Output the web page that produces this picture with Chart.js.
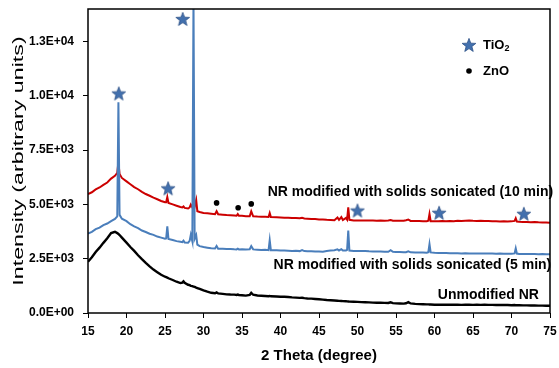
<!DOCTYPE html>
<html>
<head>
<meta charset="utf-8">
<script src="https://cdn.jsdelivr.net/npm/chart.js@4.4.1/dist/chart.umd.min.js"></script>
<style>
  body { margin: 0; background: #fff; }
  canvas { display: block; }
</style>
</head>
<body>
<canvas id="grafico" width="559" height="368"></canvas>
<script>
// 2 theta (graus)
const theta = [
  15, 15.5, 16, 16.5, 17, 17.5, 18, 18.5, 18.8, 18.95,
  19.1, 19.4, 20, 20.5, 21, 21.5, 22, 22.5, 23, 23.5,
  24, 24.5, 25, 25.15, 25.3, 25.45, 26, 26.5, 27, 27.25,
  27.4, 27.55, 28, 28.2, 28.35, 28.55, 28.7, 28.85, 29.05, 29.2,
  29.5, 30, 30.5, 31, 31.5, 31.7, 31.9, 32.5, 33, 33.5,
  34, 34.3, 34.45, 34.6, 35, 35.5, 36, 36.2, 36.45, 37,
  37.5, 38, 38.45, 38.6, 38.75, 39.5, 40, 40.5, 41, 41.5,
  42, 42.5, 42.8, 43.1, 43.5, 44, 44.5, 45, 45.5, 46,
  46.5, 47, 47.4, 47.6, 47.9, 48.1, 48.5, 48.65, 48.8, 48.95,
  49.5, 50, 50.5, 51, 51.5, 52, 52.5, 53, 53.5, 54,
  54.3, 54.6, 55, 55.5, 56, 56.3, 56.6, 56.9, 57.5, 58,
  58.5, 59, 59.2, 59.35, 59.5, 60, 60.5, 61, 61.5, 62,
  62.5, 63, 63.5, 64, 64.5, 65, 65.5, 66, 66.5, 67,
  67.5, 68, 68.5, 69, 69.5, 70, 70.4, 70.55, 70.7, 71,
  71.5, 72, 72.5, 73, 73.5, 74, 74.5, 75
];

// NR modificado, sonicado 5 min
const sonicado5 = [
  3660, 3740, 3860, 3930, 4050, 4120, 4230, 4330, 4450, 9700,
  4520, 4340, 4230, 4090, 3990, 3910, 3800, 3730, 3650, 3600,
  3520, 3470, 3420, 3430, 3990, 3410, 3360, 3310, 3280, 3260,
  3330, 3250, 3240, 3320, 3600, 3300, 14500, 3420, 3590, 3150,
  3080, 3040, 3010, 2980, 2970, 3090, 2960, 2960, 2945, 2950,
  2935, 2930, 2965, 2930, 2935, 2920, 2935, 3080, 2930, 2915,
  2905, 2910, 2895, 3350, 2890, 2885, 2880, 2875, 2870, 2860,
  2865, 2850, 2900, 2850, 2845, 2840, 2830, 2835, 2825, 2860,
  2875, 2890, 2930, 2880, 2940, 2875, 2880, 2910, 3800, 2875,
  2860, 2855, 2850, 2850, 2840, 2835, 2830, 2830, 2820, 2820,
  2890, 2815, 2810, 2805, 2800, 2800, 2840, 2795, 2790, 2785,
  2785, 2780, 2800, 3170, 2790, 2770, 2765, 2760, 2760, 2755,
  2750, 2755, 2745, 2750, 2745, 2740, 2740, 2745, 2740, 2735,
  2735, 2730, 2735, 2725, 2730, 2725, 2745, 2980, 2735, 2720,
  2720, 2715, 2715, 2712, 2710, 2712, 2708, 2705
];

// NR modificado, sonicado 10 min
const sonicado10 = [
  5480, 5560, 5690, 5780, 5900, 6010, 6190, 6320, 6450, 6950,
  6400, 6220, 6060, 5930, 5800, 5700, 5580, 5480, 5400, 5310,
  5240, 5160, 5100, 5100, 5340, 5070, 5000, 4940, 4880, 4860,
  4910, 4840, 4810, 4860, 4990, 4860, 5050, 4900, 5200, 4690,
  4650, 4610, 4590, 4570, 4550, 4690, 4545, 4530, 4515, 4505,
  4495, 4480, 4560, 4480, 4475, 4460, 4455, 4680, 4450, 4440,
  4435, 4430, 4420, 4600, 4420, 4410, 4400, 4390, 4385, 4380,
  4370, 4360, 4380, 4350, 4345, 4330, 4325, 4310, 4305, 4290,
  4280, 4270, 4400, 4290, 4420, 4280, 4380, 4300, 4870, 4290,
  4265, 4260, 4265, 4260, 4255, 4260, 4250, 4255, 4250, 4260,
  4280, 4245, 4250, 4245, 4250, 4270, 4300, 4240, 4240, 4235,
  4230, 4230, 4250, 4560, 4230, 4230, 4230, 4235, 4225, 4240,
  4230, 4250, 4235, 4250, 4260, 4245, 4240, 4250, 4235, 4240,
  4230, 4225, 4215, 4220, 4210, 4220, 4240, 4360, 4210, 4200,
  4190, 4195, 4180, 4185, 4175, 4170, 4165, 4160
];

// NR sem modificação
const semModificacao = [
  2360, 2570, 2810, 3010, 3230, 3440, 3680, 3740, 3680, 3640,
  3590, 3470, 3240, 3040, 2860, 2660, 2480, 2310, 2150, 2000,
  1880, 1760, 1670, 1650, 1630, 1600, 1520, 1440, 1380, 1400,
  1460, 1390, 1300, 1280, 1250, 1240, 1220, 1200, 1170, 1150,
  1110, 1040, 980, 930, 910, 950, 900, 880, 860, 850,
  845, 830, 850, 830, 820, 800, 830, 930, 840, 805,
  795, 785, 775, 785, 770, 760, 750, 745, 735, 720,
  710, 695, 700, 685, 670, 660, 645, 630, 615, 600,
  590, 575, 565, 560, 555, 545, 540, 535, 530, 525,
  520, 510, 500, 495, 490, 480, 475, 470, 465, 460,
  490, 455, 445, 440, 430, 450, 500, 440, 420, 410,
  405, 395, 395, 390, 390, 380, 385, 380, 385, 380,
  380, 385, 375, 380, 380, 375, 380, 375, 380, 375,
  375, 370, 370, 365, 370, 360, 365, 360, 355, 355,
  350, 350, 345, 345, 340, 340, 335, 335
];

// marcadores de fase
const tio2Theta = [19.0, 27.3, 25.4, 50.0, 60.6, 71.6];
const tio2Y = [10110, 13540, 5740, 4720, 4615, 4570];
const znoTheta = [31.7, 34.5, 36.2];
const znoY = [5070, 4845, 5025];

const xTicks = [15, 20, 25, 30, 35, 40, 45, 50, 55, 60, 65, 70, 75];
const yTicks = [0, 2500, 5000, 7500, 10000, 12500];
const yTickLabels = ["0.0E+00", "2.5E+03", "5.0E+03", "7.5E+03", "1.0E+04", "1.3E+04"];

const FONTE = "'Liberation Sans', Arial, sans-serif";
const AZUL = "#4A7EBB";
const VERMELHO = "#CC0000";

function pares(xs, ys) {
    return xs.map((x, i) => ({x: x, y: ys[i]}));
}

//estrela preenchida para o TiO2
function criarEstrela(tam) {
    const c = document.createElement("canvas");
    c.width = tam; c.height = tam;
    const g = c.getContext("2d");
    const cx = tam / 2, cy = tam / 2 + 0.6, R = tam / 2 - 0.8, r = R * 0.42;
    g.beginPath();
    for (let i = 0; i < 10; i++) {
        const a = -Math.PI / 2 + i * Math.PI / 5;
        const rad = i % 2 ? r : R;
        g.lineTo(cx + rad * Math.cos(a), cy + rad * Math.sin(a));
    }
    g.closePath();
    g.fillStyle = "#4270AE";
    g.fill();
    g.strokeStyle = "#2C5087";
    g.lineWidth = 0.8;
    g.stroke();
    return c;
}
const estrela = criarEstrela(16);

//sem folga extra nos eixos, a area do grafico fica fixa
function semFolga(s) {
    s.paddingLeft = 0; s.paddingRight = 0;
    s.paddingTop = 0; s.paddingBottom = 0;
}

const textos = {
    id: "textos",
    afterDraw(chart) {
        const ctx = chart.ctx;
        const a = chart.chartArea;
        const x = chart.scales.x, y = chart.scales.y;
        ctx.save();

        //moldura
        ctx.strokeStyle = "#000";
        ctx.lineWidth = 1.5;
        ctx.strokeRect(a.left, a.top, a.right - a.left, a.bottom - a.top);

        ctx.fillStyle = "#000";
        ctx.textBaseline = "middle";

        //rotulos das curvas
        ctx.font = "bold 14px " + FONTE;
        ctx.textAlign = "left";
        ctx.fillText("NR modified with solids sonicated (10 min)", x.getPixelForValue(38.33), y.getPixelForValue(5557));
        ctx.fillText("NR modified with solids sonicated (5 min)", x.getPixelForValue(39.1), y.getPixelForValue(2207));
        ctx.textAlign = "right";
        ctx.fillText("Unmodified NR", x.getPixelForValue(73.56), y.getPixelForValue(836));

        //legenda
        const lx = a.right - 81;
        ctx.drawImage(estrela, lx - 8, a.top + 36 - 8);
        ctx.beginPath();
        ctx.arc(lx, a.top + 62, 2.8, 0, Math.PI * 2);
        ctx.fill();
        ctx.textAlign = "left";
        ctx.font = "bold 13px " + FONTE;
        ctx.fillText("TiO", lx + 14, a.top + 36);
        const w = ctx.measureText("TiO").width;
        ctx.font = "bold 9px " + FONTE;
        ctx.fillText("2", lx + 14 + w, a.top + 40);
        ctx.font = "bold 13px " + FONTE;
        ctx.fillText("ZnO", lx + 14, a.top + 62);

        //titulos dos eixos
        ctx.textAlign = "center";
        ctx.font = "bold 15px " + FONTE;
        ctx.fillText("2 Theta (degree)", (a.left + a.right) / 2, 356);

        ctx.translate(18.5, (a.top + a.bottom) / 2);
        ctx.rotate(-Math.PI / 2);
        ctx.scale(1.55, 1);
        ctx.font = "15px " + FONTE;
        ctx.fillText("Intensity (arbitrary units)", 0, 0);
        ctx.restore();
    }
};

const ctx = document.getElementById("grafico").getContext("2d");

new Chart(ctx, {
    type: "line",
    data: {
        datasets: [
            {
                label: "TiO2",
                data: pares(tio2Theta, tio2Y),
                showLine: false,
                pointStyle: estrela,
                pointRadius: 8
            },
            {
                label: "ZnO",
                data: pares(znoTheta, znoY),
                showLine: false,
                pointStyle: "circle",
                pointRadius: 2.8,
                backgroundColor: "#000",
                borderColor: "#000",
                borderWidth: 0
            },
            {
                label: "5 min",
                data: pares(theta, sonicado5),
                borderColor: AZUL,
                borderWidth: 2,
                pointRadius: 0
            },
            {
                label: "10 min",
                data: pares(theta, sonicado10),
                borderColor: VERMELHO,
                borderWidth: 2,
                pointRadius: 0
            },
            {
                label: "Unmodified NR",
                data: pares(theta, semModificacao),
                borderColor: "#000",
                borderWidth: 2.4,
                pointRadius: 0
            }
        ]
    },
    options: {
        responsive: false,
        animation: false,
        devicePixelRatio: 1,
        layout: { padding: { top: 7, right: 5, left: 0, bottom: 0 } },
        plugins: {
            legend: { display: false },
            tooltip: { enabled: false }
        },
        elements: { line: { tension: 0 } },
        scales: {
            x: {
                type: "linear",
                min: 15,
                max: 75,
                afterBuildTicks: (s) => { s.ticks = xTicks.map(v => ({value: v})); },
                afterFit: (s) => { s.height = 55; semFolga(s); },
                ticks: {
                    color: "#000",
                    padding: 6,
                    maxRotation: 0,
                    font: { family: FONTE, size: 12, weight: "bold" }
                },
                grid: { drawOnChartArea: false, tickLength: 5, color: "#000" },
                border: { display: false }
            },
            y: {
                type: "linear",
                min: 0,
                max: 14000,
                afterBuildTicks: (s) => { s.ticks = yTicks.map(v => ({value: v})); },
                afterFit: (s) => { s.width = 88; semFolga(s); },
                ticks: {
                    color: "#000",
                    padding: 9,
                    callback: (v, i) => yTickLabels[i],
                    font: { family: FONTE, size: 12, weight: "bold" }
                },
                grid: { drawOnChartArea: false, tickLength: 5, color: "#000" },
                border: { display: false }
            }
        }
    },
    plugins: [textos]
});
</script>
</body>
</html>
